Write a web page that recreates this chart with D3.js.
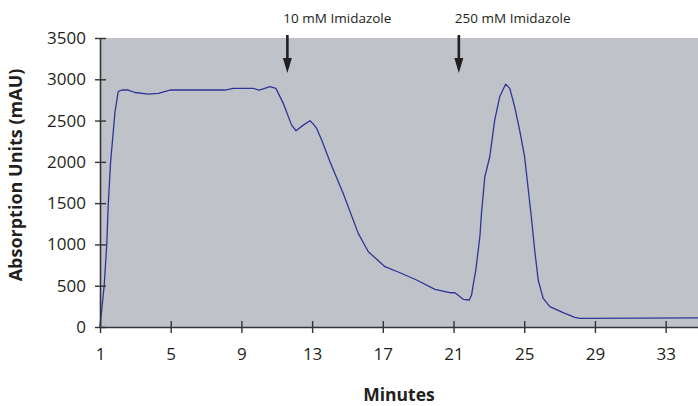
<!DOCTYPE html>
<html>
<head>
<meta charset="utf-8">
<script src="https://cdn.jsdelivr.net/npm/d3@7"></script>
<style>
  body { margin: 0; background: #fff; }
  text { font-family: "Open Sans", sans-serif; fill: #231f20; }
</style>
</head>
<body>
<div class="chart"></div>
<script>
// elution profile
var minutes = [1.00, 1.24, 1.38, 1.47, 1.60, 1.85, 2.03, 2.23, 2.60, 2.98, 3.73, 4.30, 4.96, 8.07, 8.54, 9.67,
  10.01, 10.62, 10.95, 11.37, 11.84, 12.09, 12.50, 12.88, 13.03, 13.26, 13.54, 14.01, 14.76, 15.61, 16.18,
  17.12, 17.97, 18.91, 19.95, 20.79, 21.08, 21.55, 21.89, 22.02, 22.11, 22.26, 22.49, 22.58, 22.77, 23.05,
  23.33, 23.61, 23.95, 24.18, 24.46, 24.74, 25.02, 25.21, 25.40, 25.59, 25.79, 26.07, 26.45, 27.20, 27.86,
  28.15, 34.83];
var absorbance = [0, 508, 993, 1500, 2000, 2607, 2850, 2870, 2870, 2840, 2820, 2830, 2870, 2870, 2890, 2890,
  2870, 2910, 2890, 2708, 2445, 2377, 2445, 2498, 2466, 2405, 2264, 2001, 1618, 1134, 912,
  730, 657, 569, 456, 415, 415, 335, 327, 387, 508, 690, 1093, 1376, 1820, 2062,
  2506, 2788, 2942, 2890, 2667, 2385, 2062, 1699, 1335, 932, 569, 347, 246, 173, 117,
  105, 110];

var xTicks = [1, 5, 9, 13, 17, 21, 25, 29, 33];
var yTicks = [0, 500, 1000, 1500, 2000, 2500, 3000, 3500];

var markerLabels = ["10 mM Imidazole", "250 mM Imidazole"];
var markerMinutes = [11.6, 21.3];

var width = 698, height = 406;
var marginLeft = 100, plotTop = 38, plotBottom = 327;

var svg = d3.select(".chart")
  .append("svg")
    .attr("width", width)
    .attr("height", height);

var x = d3.scaleLinear()
  .domain([1, 34.83])
  .range([marginLeft, width]);

var y = d3.scaleLinear()
  .domain([0, 3500])
  .range([plotBottom, plotTop]);

// grey plot area
svg.append("rect")
  .attr("x", x(1))
  .attr("y", y(3500))
  .attr("width", x(34.83) - x(1))
  .attr("height", y(0) - y(3500))
  .style("fill", "#c0c2c9");

var data = minutes.map(function(m, i) { return [m, absorbance[i]]; });

var line = d3.line()
  .x(function(d) { return x(d[0]); })
  .y(function(d) { return y(d[1]); });

svg.append("path")
  .datum(data)
  .attr("d", line)
  .style("fill", "none")
  .style("stroke", "#2e3596")
  .style("stroke-width", 1.3)
  .style("stroke-linejoin", "round");

// axes
var xAxis = d3.axisBottom(x)
  .tickValues(xTicks)
  .tickSizeInner(6)
  .tickSizeOuter(0)
  .tickPadding(15);

var gx = svg.append("g")
  .attr("transform", "translate(0," + plotBottom + ")")
  .call(xAxis);

var yAxis = d3.axisLeft(y)
  .tickValues(yTicks)
  .tickFormat(d3.format("d"))
  .tickSizeInner(5)
  .tickSizeOuter(0)
  .tickPadding(9);

var gy = svg.append("g")
  .attr("transform", "translate(" + marginLeft + ",0)")
  .call(yAxis);

[gx, gy].forEach(function(g) {
  g.select(".domain").style("stroke", "#333").style("stroke-width", 1.6);
  g.selectAll(".tick line").style("stroke", "#333").style("stroke-width", 1.4);
  g.selectAll(".tick text").style("font-size", "17px").style("fill", "#231f20");
});

// ticks cross the axis lines
gx.selectAll(".tick line").attr("y1", -6).attr("y2", 6);
gy.selectAll(".tick line").attr("x1", -5).attr("x2", 6);

svg.append("text")
  .attr("transform", "translate(22,175) rotate(-90)")
  .attr("text-anchor", "middle")
  .style("font-size", "18px")
  .style("font-weight", "bold")
  .text("Absorption Units (mAU)");

svg.append("text")
  .attr("x", 399)
  .attr("y", 401)
  .attr("text-anchor", "middle")
  .style("font-size", "17.5px")
  .style("font-weight", "bold")
  .text("Minutes");

// imidazole step markers
markerMinutes.forEach(function(m, i) {
  var mx = x(m);
  svg.append("text")
    .attr("x", mx - 4)
    .attr("y", 23)
    .style("font-size", "13.5px")
    .text(markerLabels[i]);
  svg.append("line")
    .attr("x1", mx).attr("x2", mx)
    .attr("y1", 35).attr("y2", 60)
    .style("stroke", "#231f20")
    .style("stroke-width", 2.6);
  svg.append("path")
    .attr("d", "M" + (mx - 4.5) + ",58L" + (mx + 4.5) + ",58L" + mx + ",73Z")
    .style("fill", "#231f20");
});
</script>
</body>
</html>
